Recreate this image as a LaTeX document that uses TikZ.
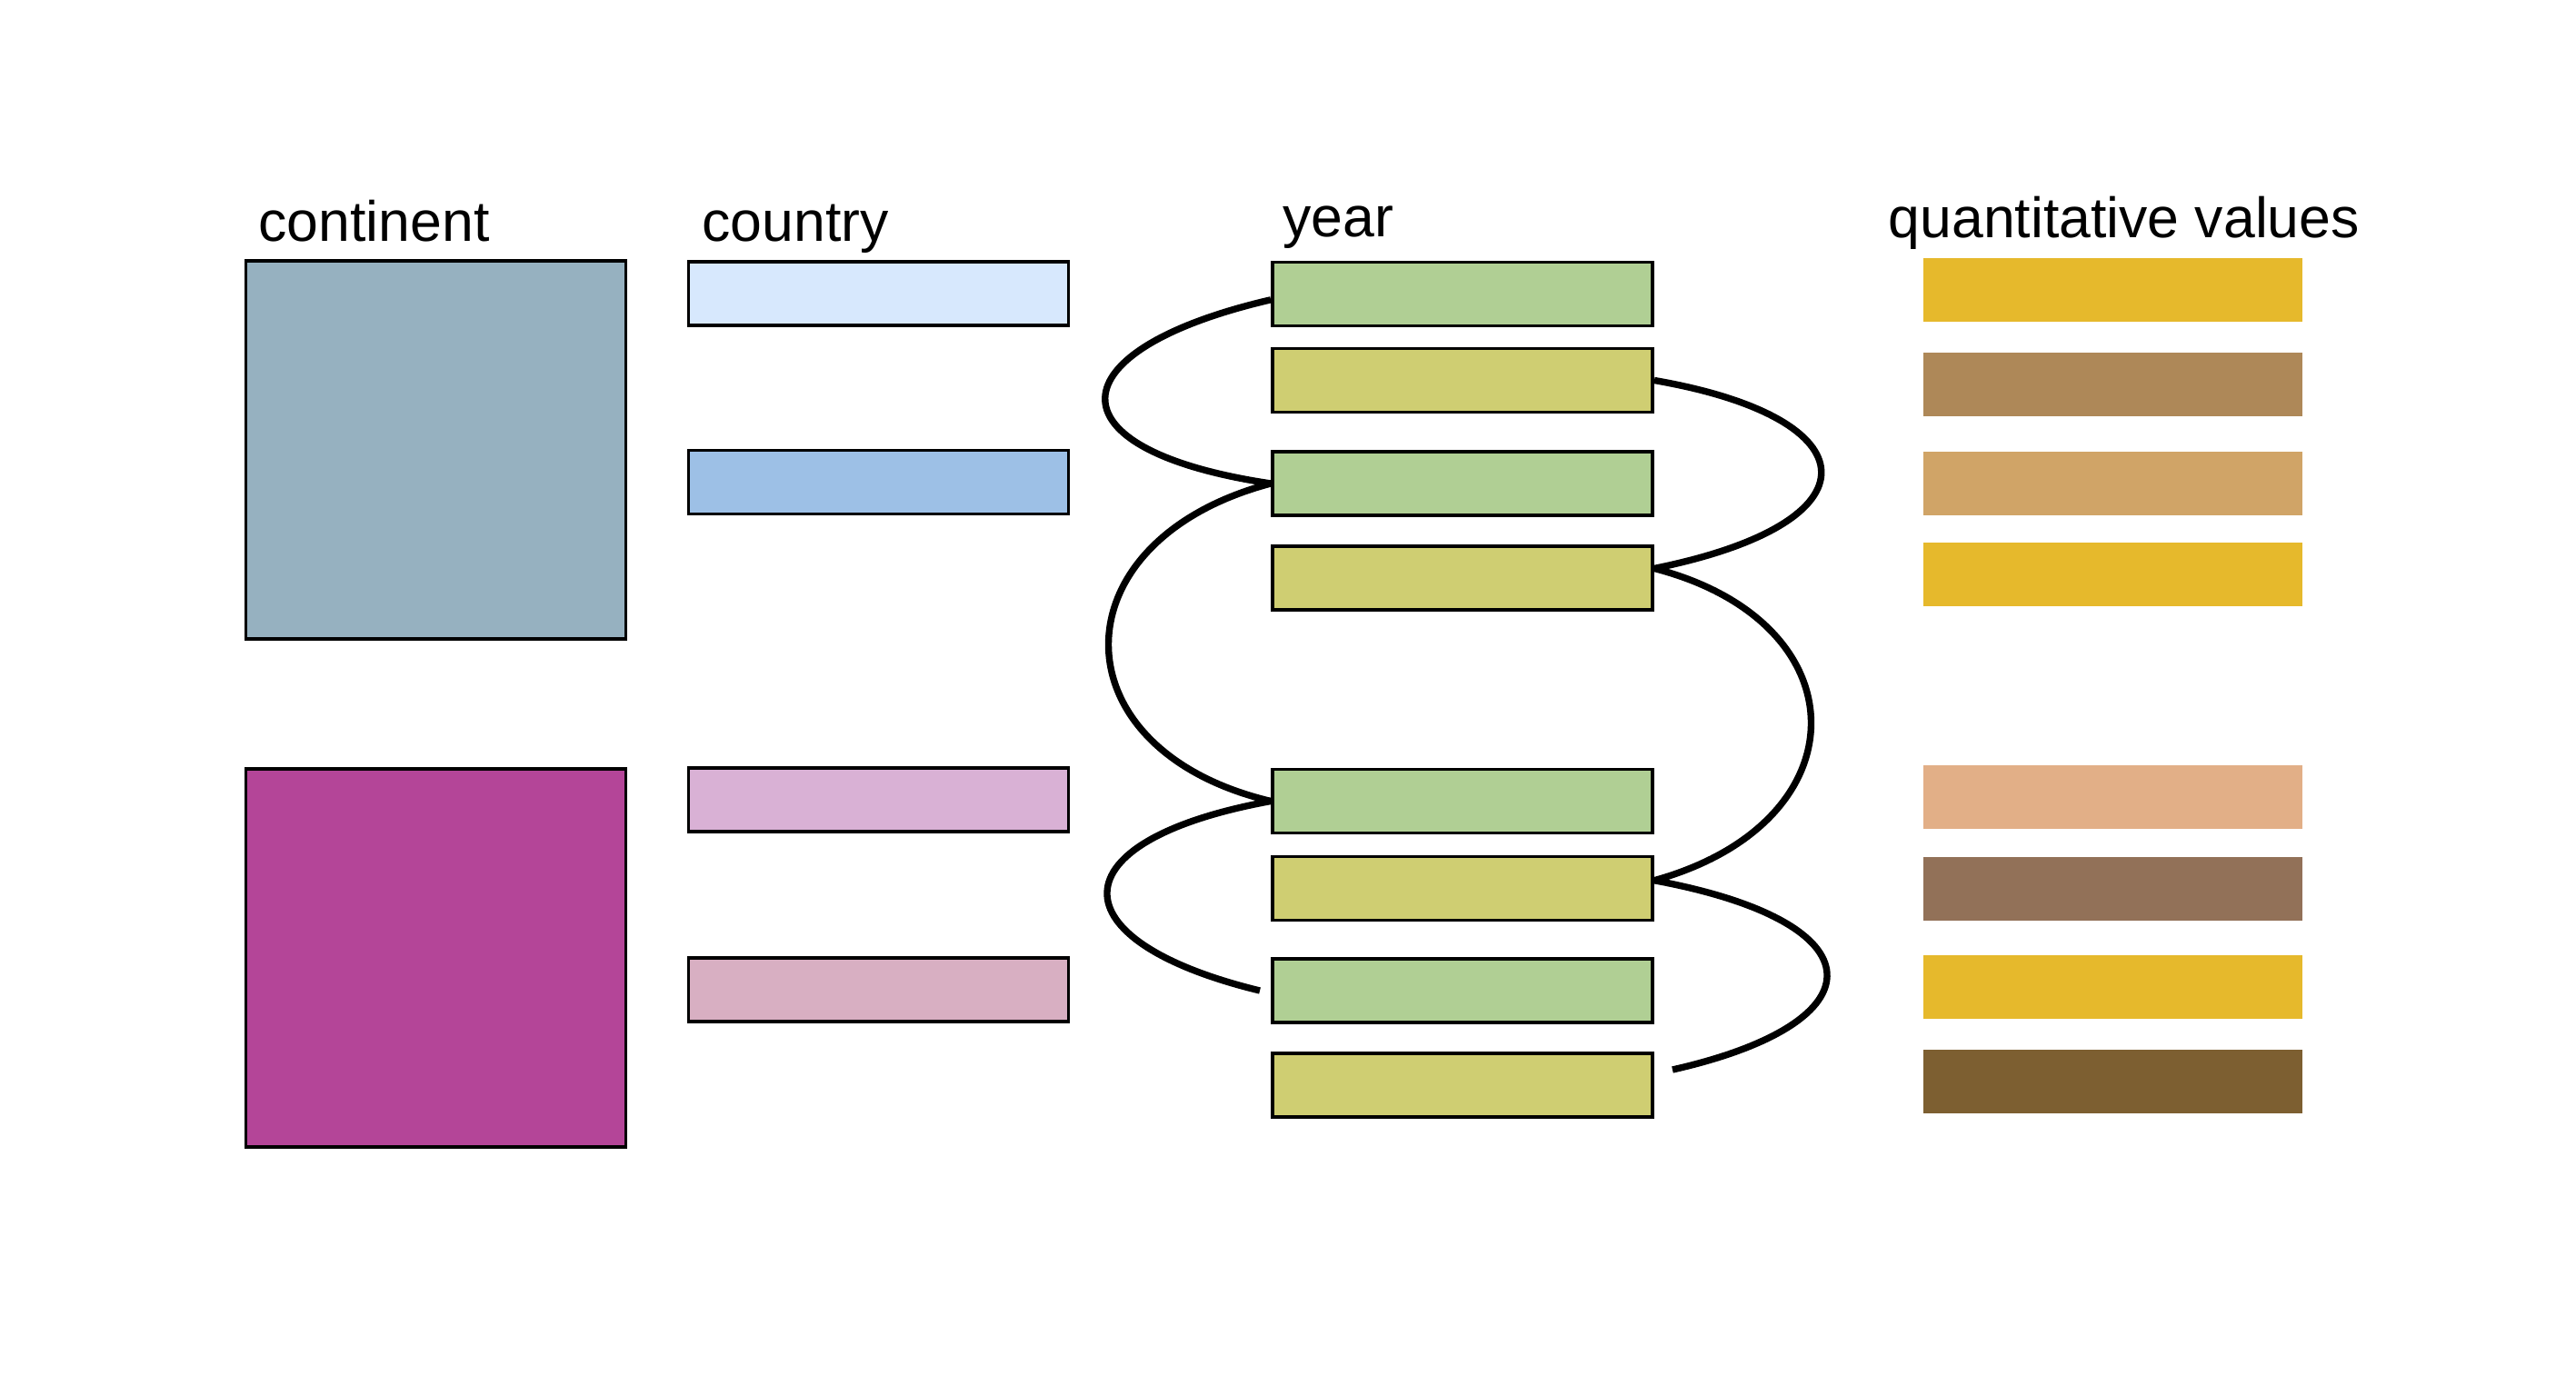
\documentclass[tikz,border=0pt]{standalone}
\usepackage{fontspec}
\setmainfont{Liberation Sans}
\usepackage{tikz}

\definecolor{contA}{HTML}{96B1C0}
\definecolor{contB}{HTML}{B44598}
\definecolor{cntrA}{HTML}{D7E8FD}
\definecolor{cntrB}{HTML}{9DC0E6}
\definecolor{cntrC}{HTML}{D9B1D5}
\definecolor{cntrD}{HTML}{D8AFC2}
\definecolor{yrgreen}{HTML}{B0CF94}
\definecolor{yryellow}{HTML}{CFCE72}
\definecolor{qgold}{HTML}{E6B92C}
\definecolor{qbrown}{HTML}{AE8858}
\definecolor{qtan}{HTML}{D0A467}
\definecolor{qpeach}{HTML}{E2AF87}
\definecolor{qmocha}{HTML}{927158}
\definecolor{qdark}{HTML}{7D5F31}

\begin{document}
\begin{tikzpicture}[
    cell/.style={draw=black,line width=1.1pt,minimum width=4.18cm,minimum height=0.70cm,inner sep=0pt},
    bigcell/.style={cell,minimum height=4.16cm},
    qbar/.style={minimum width=4.17cm,minimum height=0.70cm,inner sep=0pt},
    head/.style={anchor=base west,inner sep=0pt,font=\fontsize{17.8}{21}\selectfont},
    link/.style={line width=2.1pt}]
\useasboundingbox[fill=white] (0,0) rectangle (28.34,15.35);

        % column titles
        \node[head] (tcont) at (2.84,12.69) {continent};
        \node[head] (tcntr) at (7.72,12.69) {country};
        \node[head] (tyear) at (14.11,12.74) {year};
        \node[head] (tqual) at (20.77,12.73) {quantitative values};

        % continent
        \node[bigcell,fill=contA] (ct1) at (4.795,10.40) {};
        \node[bigcell,fill=contB] (ct2) at (4.795,4.81) {};

        % country
        \node[cell,fill=cntrA] (cn1) at (9.665,12.12) {};
        \node[cell,fill=cntrB] (cn2) at (9.665,10.045) {};
        \node[cell,fill=cntrC] (cn3) at (9.665,6.55) {};
        \node[cell,fill=cntrD] (cn4) at (9.665,4.46) {};

        % year
        \node[cell,fill=yrgreen]  (yr1) at (16.09,12.115) {};
        \node[cell,fill=yryellow] (yr2) at (16.09,11.165) {};
        \node[cell,fill=yrgreen]  (yr3) at (16.09,10.03) {};
        \node[cell,fill=yryellow] (yr4) at (16.09,8.99) {};
        \node[cell,fill=yrgreen]  (yr5) at (16.09,6.535) {};
        \node[cell,fill=yryellow] (yr6) at (16.09,5.575) {};
        \node[cell,fill=yrgreen]  (yr7) at (16.09,4.45) {};
        \node[cell,fill=yryellow] (yr8) at (16.09,3.41) {};

        % quantitative values
        \node[qbar,fill=qgold]  (qv1) at (23.245,12.16) {};
        \node[qbar,fill=qbrown] (qv2) at (23.245,11.12) {};
        \node[qbar,fill=qtan]   (qv3) at (23.245,10.03) {};
        \node[qbar,fill=qgold]  (qv4) at (23.245,9.03) {};
        \node[qbar,fill=qpeach] (qv5) at (23.245,6.575) {};
        \node[qbar,fill=qmocha] (qv6) at (23.245,5.57) {};
        \node[qbar,fill=qgold]  (qv7) at (23.245,4.49) {};
        \node[qbar,fill=qdark]  (qv8) at (23.245,3.45) {};

        % loose ends
        \coordinate (end7) at (13.86,4.45);
        \coordinate (end8) at (18.40,3.58);

        % the snake through the years
        \draw[link] ([yshift=-1.8pt]yr1.west) .. controls (11.6,11.5) and (11.5,10.4) .. (yr3.west);
        \draw[link] (yr2.east) .. controls (20.6,10.75) and (20.7,9.6) .. ([yshift=3pt]yr4.east);
        \draw[link] (yr3.west) .. controls (11.6,9.4) and (11.6,7.1) .. (yr5.west);
        \draw[link] ([yshift=3pt]yr4.east) .. controls (20.5,8.5) and (20.5,6.3) .. ([yshift=2.5pt]yr6.east);
        \draw[link] (yr5.west) .. controls (11.6,6.1) and (11.6,5.0) .. (end7);
        \draw[link] ([yshift=2.5pt]yr6.east) .. controls (20.7,5.2) and (20.7,4.1) .. (end8);
\end{tikzpicture}
\end{document}
